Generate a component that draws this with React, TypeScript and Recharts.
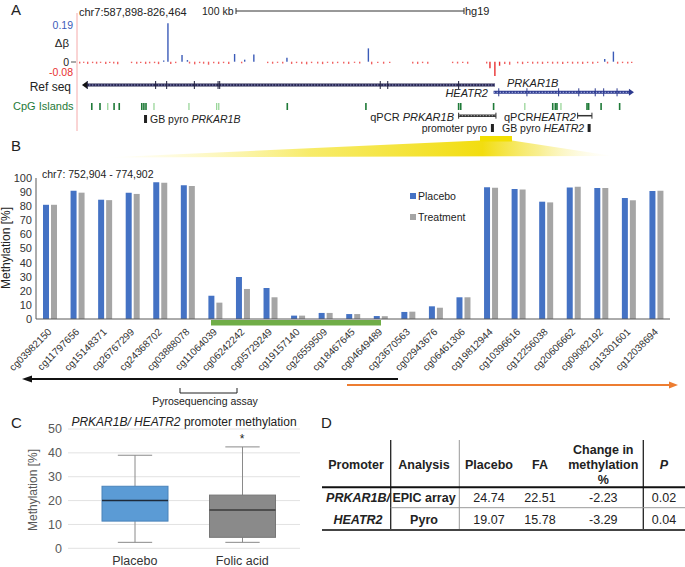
import React from "react";
import {
  BarChart,
  Bar,
  XAxis,
  YAxis,
  Legend,
  ComposedChart,
  Scatter,
  ReferenceLine,
  Cell,
  CartesianGrid,
} from "recharts";

const FONT = '"Liberation Sans", Arial, Helvetica, sans-serif';

// ---- Panel A: delta beta along chr7 (kb, delta beta)
const deltaBeta: [number, number][] = [
  [589.2, -0.009], [590.9, -0.006], [592.6, -0.011], [594.7, -0.007], [596.4, -0.01],
  [598.1, -0.006], [600.3, -0.012], [602.0, -0.007], [603.7, -0.009], [605.4, -0.013],
  [611.3, -0.007], [613.5, -0.01], [615.2, -0.006], [617.3, -0.011], [619.0, -0.008],
  [621.1, -0.007], [622.8, -0.012], [625.0, 0.006], [626.8, 0.19], [628.0, -0.011],
  [630.1, -0.007], [632.8, 0.033], [635.1, 0.008], [636.0, -0.009], [638.2, -0.013],
  [640.3, -0.007], [642.0, -0.01], [644.1, -0.015], [646.3, -0.008], [648.4, -0.011],
  [650.5, -0.007], [652.7, -0.012], [655.2, 0.038], [658.2, -0.008], [659.5, 0.01],
  [663.4, 0.036], [669.3, -0.007], [671.4, -0.01], [673.5, -0.006], [675.7, -0.009],
  [677.5, 0.02], [679.5, -0.011], [681.6, -0.007], [683.8, -0.01], [685.9, -0.013],
  [688.0, -0.007], [690.6, -0.009], [692.7, -0.012], [694.8, -0.006], [697.0, -0.01],
  [699.1, -0.007], [701.7, -0.009], [703.8, -0.011], [706.3, -0.006], [708.5, -0.009],
  [712.2, 0.066], [713.6, -0.013], [716.2, -0.007], [718.7, -0.01], [721.3, -0.006],
  [731.1, -0.009], [733.2, -0.011], [735.3, -0.007], [737.5, -0.01], [748.1, -0.007],
  [750.2, -0.009], [752.4, -0.006], [754.5, -0.01], [762.6, -0.009], [764.0, -0.032],
  [766.1, -0.071], [768.1, -0.02], [770.3, -0.011], [772.4, -0.015], [775.8, -0.008],
  [777.9, -0.012], [780.1, -0.007], [782.2, -0.01], [784.3, -0.009], [786.4, -0.011],
  [788.6, -0.007], [790.7, -0.01], [792.8, -0.009], [795.0, -0.012], [797.1, -0.007],
  [799.2, -0.01], [801.4, -0.009], [803.5, -0.011], [805.6, -0.007], [807.8, -0.01],
  [809.9, -0.006], [812.9, 0.013], [814.1, -0.009], [816.6, 0.05], [818.4, -0.01],
  [820.5, -0.007], [822.7, -0.009], [824.4, -0.006],
];
const cpgStrong = [594.2, 597.7, 603.7, 605.9, 615.5, 616.4, 617.3, 677.5, 711.0, 750.5, 751.4, 765.4, 790.6, 791.7, 792.4, 805.2, 805.9, 811.2, 819.1];
const cpgFaint = [601.0, 620.7, 635.6, 647.4, 648.3, 778.7, 794.1];
const prkar1bSpan = [591.7, 766.0];
const prkar1bExons = [592.3, 621.4, 626.1, 637.9, 648.0, 648.7, 717.1, 720.3, 750.5];
const heatr2Span = [765.4, 823.5];
const heatr2Exons = [767.6, 779.6, 793.1, 801.7, 808.7, 812.3, 818.0];
const qpcrPrkar1b = [750.5, 766.4];
const qpcrHeatr2 = [801.2, 807.3];
const pyroGbPrkar1b = [617.1];
const pyroPromoter = [764.9];
const pyroGbHeatr2 = [806.1];

// ---- Panel B: methylation per CpG site
const cpgSites = [
  "cg03982150", "cg11797656", "cg15148371", "cg26767299", "cg24368702", "cg03888078",
  "cg11064039", "cg06242242", "cg05729249", "cg19157140", "cg26559509", "cg18467645",
  "cg04649489", "cg23670563", "cg02943676", "cg06461306", "cg19812944", "cg10396616",
  "cg12256038", "cg20606662", "cg09082192", "cg13301601", "cg12038694",
];
const placebo = [81, 91, 84.6, 89.6, 97, 94.8, 16.5, 29.8, 22, 2.4, 4.3, 3.5, 2.1, 5, 9, 15.4, 93.4, 92.2, 83.2, 93.3, 92.9, 85.8, 90.8];
const treatment = [81, 89.6, 84.3, 88.7, 96.7, 94.3, 11.6, 21.3, 15.4, 2.4, 4.3, 3.5, 2, 5.2, 8, 15.4, 93.1, 91.9, 82.7, 93.8, 92.9, 84.2, 91];
const methylTicks = [0, 10, 20, 30, 40, 50, 60, 70, 80, 90, 100];

// ---- Panel C: pyrosequencing box plot
const groups = ["Placebo", "Folic acid"];
const boxMin = [2.5, 2.5];
const boxQ1 = [11.4, 4.6];
const boxMedian = [20, 16];
const boxQ3 = [26, 22.3];
const boxMax = [39, 42.5];
const boxTicks = [0, 10, 20, 30, 40, 50];

// ---- Panel D: table
const analyses = ["EPIC array", "Pyro"];
const placeboMeans = ["24.74", "19.07"];
const faMeans = ["22.51", "15.78"];
const changes = ["-2.23", "-3.29"];
const pValues = ["0.02", "0.04"];

const barData = cpgSites.map((site, i) => ({ site, placebo: placebo[i], treatment: treatment[i] }));
const deltaData = deltaBeta.map(([kb, delta]) => ({ kb, delta }));
const boxData = groups.map((name, i) => ({
  name,
  min: boxMin[i],
  q1: boxQ1[i],
  median: boxMedian[i],
  q3: boxQ3[i],
  max: boxMax[i],
}));

const KB_DOMAIN: [number, number] = [587.9, 826.5];
const ROW = { prkar1b: 7, heatr2: 14.3, cpg: 28.5, qpcr: 37.7, pyroA: 41, pyroB: 50 };
const atRow = (list: number[], row: number) => list.map((kb) => ({ kb, row }));

function DeltaBetaTrack() {
  return (
    <div style={{ position: "absolute", left: 0, top: 0 }}>
      <BarChart width={685} height={80} data={deltaData} margin={{ top: 13, right: 48, left: 77, bottom: 0 }}>
        <XAxis dataKey="kb" type="number" domain={KB_DOMAIN} hide allowDataOverflow />
        <YAxis type="number" domain={[-0.0906, 0.2411]} hide allowDataOverflow />
        <Bar dataKey="delta" barSize={1.4} isAnimationActive={false}>
          {deltaData.map((d, i) => (
            <Cell key={i} fill={d.delta > 0 ? "#3b5bb8" : d.delta < -0.015 ? "#e83030" : "#f06060"} />
          ))}
        </Bar>
      </BarChart>
    </div>
  );
}

const tick = (color: string, h: number, w = 1) => (p: any) => (
  <line x1={p.cx} x2={p.cx} y1={p.cy - h / 2} y2={p.cy + h / 2} stroke={color} strokeWidth={w} />
);
const block = (color: string, w: number, h: number) => (p: any) => (
  <rect x={p.cx - w / 2} y={p.cy - h / 2} width={w} height={h} fill={color} />
);
const arrowHead = (color: string, dir: number) => (p: any) => (
  <polygon
    points={`${p.cx + dir * 4},${p.cy} ${p.cx - dir * 1},${p.cy - 3.5} ${p.cx - dir * 1},${p.cy + 3.5}`}
    fill={color}
  />
);

function AnnotationTracks() {
  return (
    <div style={{ position: "absolute", left: 0, top: 78 }}>
      <ComposedChart width={685} height={60} margin={{ top: 0, right: 48, left: 77, bottom: 0 }}>
        <XAxis dataKey="kb" type="number" domain={KB_DOMAIN} hide allowDataOverflow />
        <YAxis dataKey="row" type="number" domain={[0, 60]} reversed hide allowDataOverflow />
        <ReferenceLine segment={[{ x: prkar1bSpan[0], y: ROW.prkar1b }, { x: prkar1bSpan[1], y: ROW.prkar1b }]} stroke="#24244f" strokeWidth={3} />
        <ReferenceLine segment={[{ x: prkar1bSpan[0], y: ROW.prkar1b }, { x: prkar1bSpan[1], y: ROW.prkar1b }]} stroke="#9a9ad0" strokeWidth={1} strokeDasharray="1.5 1.5" />
        <ReferenceLine segment={[{ x: heatr2Span[0], y: ROW.heatr2 }, { x: heatr2Span[1], y: ROW.heatr2 }]} stroke="#2d3a8f" strokeWidth={3} />
        <ReferenceLine segment={[{ x: heatr2Span[0], y: ROW.heatr2 }, { x: heatr2Span[1], y: ROW.heatr2 }]} stroke="#a9b4e6" strokeWidth={1} strokeDasharray="1.5 1.5" />
        <ReferenceLine segment={[{ x: qpcrPrkar1b[0], y: ROW.qpcr }, { x: qpcrPrkar1b[1], y: ROW.qpcr }]} stroke="#333" strokeWidth={2.5} />
        <ReferenceLine segment={[{ x: qpcrPrkar1b[0], y: ROW.qpcr }, { x: qpcrPrkar1b[1], y: ROW.qpcr }]} stroke="#aaa" strokeWidth={1} strokeDasharray="1.5 1.5" />
        <ReferenceLine segment={[{ x: qpcrHeatr2[0], y: ROW.qpcr }, { x: qpcrHeatr2[1], y: ROW.qpcr }]} stroke="#333" strokeWidth={1.5} />
        <Scatter data={atRow(prkar1bExons, ROW.prkar1b)} shape={tick("#1e1e3c", 8)} isAnimationActive={false} />
        <Scatter data={atRow([prkar1bSpan[0]], ROW.prkar1b)} shape={arrowHead("#111", -1)} isAnimationActive={false} />
        <Scatter data={atRow(heatr2Exons, ROW.heatr2)} shape={tick("#2d3a8f", 8)} isAnimationActive={false} />
        <Scatter data={atRow([heatr2Span[1]], ROW.heatr2)} shape={arrowHead("#2d3a8f", 1)} isAnimationActive={false} />
        <Scatter data={atRow(cpgStrong, ROW.cpg)} shape={block("#1f7a38", 1.6, 7)} isAnimationActive={false} />
        <Scatter data={atRow(cpgFaint, ROW.cpg)} shape={block("#9ad69a", 1.3, 7)} isAnimationActive={false} />
        <Scatter data={atRow([...qpcrPrkar1b, ...qpcrHeatr2], ROW.qpcr)} shape={tick("#333", 6)} isAnimationActive={false} />
        <Scatter data={atRow(pyroGbPrkar1b, ROW.pyroA)} shape={block("#222", 3, 8)} isAnimationActive={false} />
        <Scatter data={atRow([...pyroPromoter, ...pyroGbHeatr2], ROW.pyroB)} shape={block("#222", 3, 8)} isAnimationActive={false} />
      </ComposedChart>
    </div>
  );
}

function SiteTick(props: any) {
  const { x, y, payload } = props;
  const ax = x + 2.5;
  const ay = y + 13.5;
  return (
    <text x={ax} y={ay} transform={`rotate(-45, ${ax}, ${ay})`} textAnchor="end" fontSize={10} fill="#333" fontFamily={FONT}>
      {payload.value}
    </text>
  );
}

function BarLegend(props: any) {
  const items = props.payload || [];
  return (
    <div style={{ fontFamily: FONT }}>
      {items.map((it: any) => (
        <div key={it.value} style={{ height: 21, display: "flex", alignItems: "center" }}>
          <span style={{ width: 6, height: 6, background: it.color, marginLeft: 2, marginRight: 2 }} />
          <span style={{ fontSize: 10.5, color: "#222" }}>{it.value}</span>
        </div>
      ))}
    </div>
  );
}

function MethylationBars() {
  return (
    <div style={{ position: "absolute", left: 0, top: 150 }}>
      <BarChart width={685} height={240} data={barData} margin={{ top: 28, right: 15, left: 0, bottom: 0 }} barGap={2}>
        <XAxis dataKey="site" interval={0} height={71} tickLine={false} tickSize={0} tickMargin={0} tick={<SiteTick />} stroke="#595959" />
        <YAxis width={36} domain={[0, 100]} ticks={methylTicks} interval={0} tickLine={false} tickSize={2} tickMargin={2} tick={{ fontSize: 11, fill: "#333", fontFamily: FONT }} stroke="#595959" />
        <Legend layout="vertical" align="center" verticalAlign="middle" wrapperStyle={{ left: 408, top: 35, width: 90 }} content={<BarLegend />} />
        <Bar dataKey="placebo" name="Placebo" fill="#4472c4" barSize={6} isAnimationActive={false} />
        <Bar dataKey="treatment" name="Treatment" fill="#a5a5a5" barSize={6} isAnimationActive={false} />
      </BarChart>
    </div>
  );
}

const BOX_STYLE = [
  { fill: "#5b9bd5", stroke: "#4a83ba", median: "#1d2a3a" },
  { fill: "#8a8a8a", stroke: "#767676", median: "#3a3a3a" },
];

function BoxShape(props: any) {
  const { x, y, width, height, payload, index } = props;
  const top = height < 0 ? y + height : y;
  const h = Math.abs(height);
  const ppu = h / (payload.q3 - payload.q1);
  const py = (v: number) => top + (payload.q3 - v) * ppu;
  const cx = x + width / 2;
  const cap = width * 0.26;
  const st = BOX_STYLE[index] || BOX_STYLE[0];
  const w = "#8a8a8a";
  return (
    <g>
      <line x1={cx} x2={cx} y1={py(payload.max)} y2={top} stroke={w} />
      <line x1={cx} x2={cx} y1={top + h} y2={py(payload.min)} stroke={w} />
      <line x1={cx - cap} x2={cx + cap} y1={py(payload.max)} y2={py(payload.max)} stroke={w} />
      <line x1={cx - cap} x2={cx + cap} y1={py(payload.min)} y2={py(payload.min)} stroke={w} />
      <rect x={x} y={top} width={width} height={h} fill={st.fill} stroke={st.stroke} />
      <line x1={x} x2={x + width} y1={py(payload.median)} y2={py(payload.median)} stroke={st.median} strokeWidth={1.5} />
    </g>
  );
}

function PromoterBoxes() {
  return (
    <div style={{ position: "absolute", left: 0, top: 410 }}>
      <ComposedChart width={310} height={157} data={boxData} margin={{ top: 19, right: 10, left: 0, bottom: 0 }}>
        <CartesianGrid vertical={false} stroke="#e2e2e2" />
        <XAxis dataKey="name" height={18.7} padding={{ left: 13, right: 4 }} tickLine={false} axisLine={false} tick={{ fontSize: 12.5, fill: "#333", fontFamily: FONT }} />
        <YAxis width={68} domain={[0, 50]} ticks={boxTicks} interval={0} tickLine={false} axisLine={false} tickSize={4} tickMargin={2} tick={{ fontSize: 12.5, fill: "#595959", fontFamily: FONT }} />
        <Bar dataKey={(d: any) => [d.q1, d.q3]} barSize={66} shape={<BoxShape />} isAnimationActive={false} />
      </ComposedChart>
    </div>
  );
}

const COL = { promoter: 358, analysis: 424, placebo: 489, fa: 540, change: 603.3, p: 664 };

function Overlay() {
  const txt = { fontFamily: FONT, fill: "#222" } as const;
  return (
    <svg width={685} height={567} style={{ position: "absolute", left: 0, top: 0, pointerEvents: "none" }}>
      <defs>
        <linearGradient id="fan" x1="105" y1="0" x2="615" y2="0" gradientUnits="userSpaceOnUse">
          <stop offset="0" stopColor="#fff6a0" stopOpacity="0" />
          <stop offset="0.4" stopColor="#f6e850" stopOpacity="0.85" />
          <stop offset="0.74" stopColor="#f2dd10" stopOpacity="1" />
          <stop offset="0.85" stopColor="#f6e96a" stopOpacity="0.75" />
          <stop offset="1" stopColor="#fffbe0" stopOpacity="0" />
        </linearGradient>
      </defs>

      {/* Panel A */}
      <text x={11} y={15} fontSize={15} {...txt}>A</text>
      <text x={79} y={15.5} fontSize={11} {...txt}>chr7:587,898-826,464</text>
      <text x={202} y={15} fontSize={10.5} {...txt}>100 kb</text>
      <line x1={236} x2={464} y1={11} y2={11} stroke="#333" />
      <line x1={236} x2={236} y1={8} y2={14} stroke="#333" />
      <line x1={464} x2={464} y1={8} y2={14} stroke="#333" />
      <text x={465} y={15} fontSize={11} {...txt}>hg19</text>
      <line x1={77} x2={77} y1={13} y2={131} stroke="#f5aaaa" />
      <text x={73} y={28.5} fontSize={10.5} textAnchor="end" fontFamily={FONT} fill="#3b5bb8">0.19</text>
      <text x={69} y={47} fontSize={11.5} textAnchor="end" {...txt}>Δβ</text>
      <text x={69} y={65.5} fontSize={10.5} textAnchor="end" {...txt}>0</text>
      <line x1={71} x2={76} y1={62} y2={62} stroke="#555" />
      <text x={73} y={76} fontSize={10.5} textAnchor="end" fontFamily={FONT} fill="#e83030">-0.08</text>
      <text x={71} y={91} fontSize={12} textAnchor="end" {...txt}>Ref seq</text>
      <text x={507} y={87} fontSize={11} fontStyle="italic" {...txt}>PRKAR1B</text>
      <text x={488} y={97} fontSize={11} fontStyle="italic" textAnchor="end" {...txt}>HEATR2</text>
      <text x={13} y={110} fontSize={11} fontFamily={FONT} fill="#1f7a38">CpG Islands</text>
      <text x={150} y={123} fontSize={10.5} {...txt}>GB pyro <tspan fontStyle="italic">PRKAR1B</tspan></text>
      <text x={454} y={120.5} fontSize={11} textAnchor="end" {...txt}>qPCR <tspan fontStyle="italic">PRKAR1B</tspan></text>
      <text x={504} y={120.5} fontSize={11} {...txt}>qPCR<tspan fontStyle="italic">HEATR2</tspan></text>
      <text x={487} y={131.5} fontSize={10.5} textAnchor="end" {...txt}>promoter pyro</text>
      <text x={502} y={132} fontSize={10.5} {...txt}>GB pyro <tspan fontStyle="italic">HEATR2</tspan></text>

      {/* zoom fan */}
      <polygon points="480,140.5 512,140.5 613,156 105,157.5" fill="url(#fan)" />
      <rect x={480} y={136} width={32} height={5.5} fill="#f2df00" />

      {/* Panel B */}
      <text x={11} y={151} fontSize={15} {...txt}>B</text>
      <text x={42} y={177.5} fontSize={10.5} {...txt}>chr7: 752,904 - 774,902</text>
      <text x={0} y={0} fontSize={12} textAnchor="middle" transform="translate(10,248) rotate(-90)" {...txt}>Methylation [%]</text>
      <rect x={211} y={320} width={170} height={5.5} fill="#70ad47" />
      <line x1={30} x2={398} y1={379} y2={379} stroke="#111" strokeWidth={2} />
      <polygon points="22,379 32,375.5 32,382.5" fill="#111" />
      <line x1={347} x2={670} y1={385} y2={385} stroke="#ed7d31" strokeWidth={2} />
      <polygon points="678,385 669,381.5 669,388.5" fill="#ed7d31" />
      <path d="M180 388 V393 H237 V388" fill="none" stroke="#222" />
      <text x={205} y={404.5} fontSize={10.5} textAnchor="middle" {...txt}>Pyrosequencing assay</text>

      {/* Panel C */}
      <text x={11} y={428} fontSize={15} {...txt}>C</text>
      <text x={184} y={426} fontSize={12} textAnchor="middle" {...txt}>
        <tspan fontStyle="italic">PRKAR1B/ HEATR2</tspan> promoter methylation
      </text>
      <text x={242} y={443} fontSize={12} textAnchor="middle" {...txt}>*</text>
      <text x={0} y={0} fontSize={12} textAnchor="middle" transform="translate(37,490) rotate(-90)" fontFamily={FONT} fill="#595959">Methylation [%]</text>

      {/* Panel D */}
      <text x={321} y={428} fontSize={15} {...txt}>D</text>
      <line x1={390.7} x2={390.7} y1={440} y2={530} stroke="#222" strokeWidth={1.3} />
      <line x1={459.3} x2={459.3} y1={440} y2={530} stroke="#999" />
      <line x1={643.3} x2={643.3} y1={440} y2={530} stroke="#222" strokeWidth={1.3} />
      <line x1={322} x2={685} y1={487.3} y2={487.3} stroke="#111" strokeWidth={2} />
      <line x1={390.7} x2={685} y1={507.7} y2={507.7} stroke="#999" />
      <line x1={322} x2={685} y1={530} y2={530} stroke="#444" strokeWidth={2} />
      <g fontSize={12.5} fontWeight="bold" textAnchor="middle" {...txt}>
        <text x={356} y={468.5}>Promoter</text>
        <text x={COL.analysis} y={468.5}>Analysis</text>
        <text x={COL.placebo} y={468.5}>Placebo</text>
        <text x={COL.fa} y={468.5}>FA</text>
        <text x={COL.change} y={453.5}>Change in</text>
        <text x={COL.change} y={468.5}>methylation</text>
        <text x={COL.change} y={484}>%</text>
        <text x={COL.p} y={468.5} fontStyle="italic">P</text>
        <text x={COL.promoter} y={502} fontStyle="italic">PRKAR1B/</text>
        <text x={COL.promoter} y={523.5} fontStyle="italic">HEATR2</text>
      </g>
      {analyses.map((a, i) => {
        const by = i === 0 ? 502 : 523.5;
        return (
          <g key={a} fontSize={12.5} textAnchor="middle" {...txt}>
            <text x={COL.analysis} y={by} fontWeight="bold">{a}</text>
            <text x={COL.placebo} y={by}>{placeboMeans[i]}</text>
            <text x={COL.fa} y={by}>{faMeans[i]}</text>
            <text x={COL.change} y={by}>{changes[i]}</text>
            <text x={COL.p} y={by}>{pValues[i]}</text>
          </g>
        );
      })}
    </svg>
  );
}

export default function App() {
  return (
    <div style={{ position: "absolute", left: 0, top: 0, width: 685, height: 567, background: "#fff", fontFamily: FONT, overflow: "hidden" }}>
      <DeltaBetaTrack />
      <AnnotationTracks />
      <MethylationBars />
      <PromoterBoxes />
      <Overlay />
    </div>
  );
}
